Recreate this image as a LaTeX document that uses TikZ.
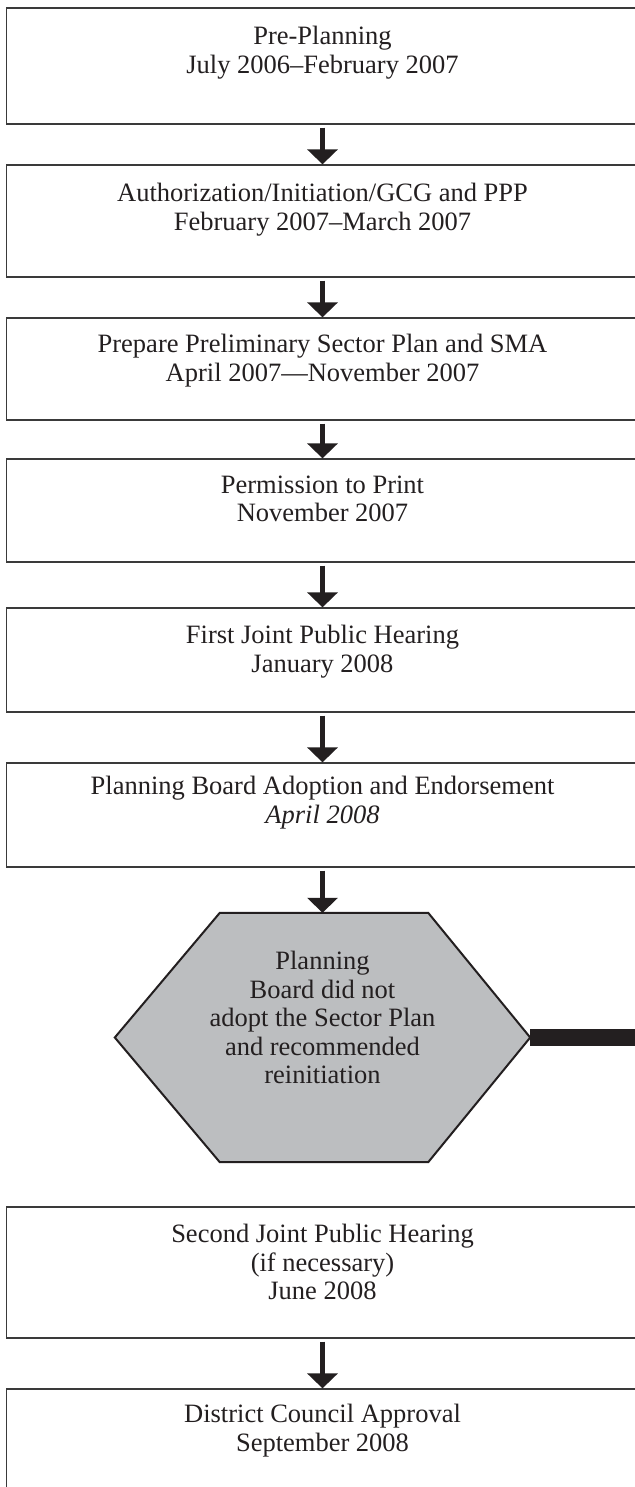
\documentclass[tikz,border=0pt]{standalone}
\usepackage{fontspec}
\setmainfont{Liberation Serif}
\usetikzlibrary{arrows.meta,backgrounds}

\definecolor{boxline}{HTML}{3A3A3A}
\definecolor{inkblack}{HTML}{231F20}
\definecolor{hexgray}{HTML}{BCBEC0}

\tikzset{
  stage/.style={draw=boxline, line width=1.3pt, minimum width=632pt, inner sep=0pt},
  stagetext/.style={anchor=north, align=center, inner sep=0pt, text=inkblack,
    font=\fontsize{26.5}{28.5}\selectfont},
  flow/.style={-{Triangle[width=30pt,length=15pt]}, line width=5.5pt, draw=inkblack, shorten <=3pt},
  hexline/.style={draw=inkblack, line width=2pt, fill=hexgray, line join=miter},
  bar/.style={draw=inkblack, line width=17pt},
}

\begin{document}
\begin{tikzpicture}[x=1pt, y=-1pt]
        \begin{scope}[on background layer]
          \fill[white] (0,0) rectangle (634,1487);
        \end{scope}
        \useasboundingbox (0,0) rectangle (634,1487);
        % stages
        \node[stage, minimum height=116pt] (pre) at (322.5,66) {};
        \node[stage, minimum height=112pt] (auth) at (322.5,221) {};
        \node[stage, minimum height=102pt] (prep) at (322.5,369) {};
        \node[stage, minimum height=103pt] (print) at (322.5,510.5) {};
        \node[stage, minimum height=104pt] (hearA) at (322.5,660) {};
        \node[stage, minimum height=104pt] (adopt) at (322.5,815) {};
        \node[minimum width=415pt, minimum height=249pt, inner sep=0pt] (hex) at (322.5,1037.5) {};
        \node[stage, minimum height=131pt] (hearB) at (322.5,1272.5) {};
        \node[stage, minimum height=200pt] (council) at (322.5,1489) {};
        \coordinate (offpage) at (645,1037.5);
        % texts
        \node[stagetext] (preT) at ([yshift=-19pt]pre.north) {Pre-Planning\\July 2006–February 2007};
        \node[stagetext] (authT) at ([yshift=-19pt]auth.north) {Authorization/Initiation/GCG and PPP\\February 2007–March 2007};
        \node[stagetext] (prepT) at ([yshift=-17pt]prep.north) {Prepare Preliminary Sector Plan and SMA\\April 2007—November 2007};
        \node[stagetext] (printT) at ([yshift=-17pt]print.north) {Permission to Print\\November 2007};
        \node[stagetext] (hearAT) at ([yshift=-18pt]hearA.north) {First Joint Public Hearing\\January 2008};
        \node[stagetext] (adoptT) at ([yshift=-14pt]adopt.north) {Planning Board Adoption and Endorsement\\\textit{April 2008}};
        \node[stagetext, anchor=center] (hexT) at ([yshift=20pt]hex.center) {Planning\\Board did not\\adopt the Sector Plan\\and recommended\\reinitiation};
        \node[stagetext] (hearBT) at ([yshift=-18pt]hearB.north) {Second Joint Public Hearing\\(if necessary)\\June 2008};
        \node[stagetext] (councilT) at ([yshift=-16pt]council.north) {District Council Approval\\September 2008};
        % hexagon outline behind its text
        \begin{scope}[on background layer]
          \draw[hexline] (hex.west) -- ([xshift=105pt]hex.north west) -- ([xshift=-102pt]hex.north east)
            -- (hex.east) -- ([xshift=-102pt]hex.south east) -- ([xshift=105pt]hex.south west) -- cycle;
        \end{scope}
        % connectors
        \draw[flow] (pre) -- (auth);
        \draw[flow] (auth) -- (prep);
        \draw[flow] (prep) -- (print);
        \draw[flow] (print) -- (hearA);
        \draw[flow] (hearA) -- (adopt);
        \draw[flow] (adopt) -- (hex);
        \draw[bar] (hex.east) -- (offpage);
        \draw[flow] (hearB) -- (council);
\end{tikzpicture}
\end{document}
